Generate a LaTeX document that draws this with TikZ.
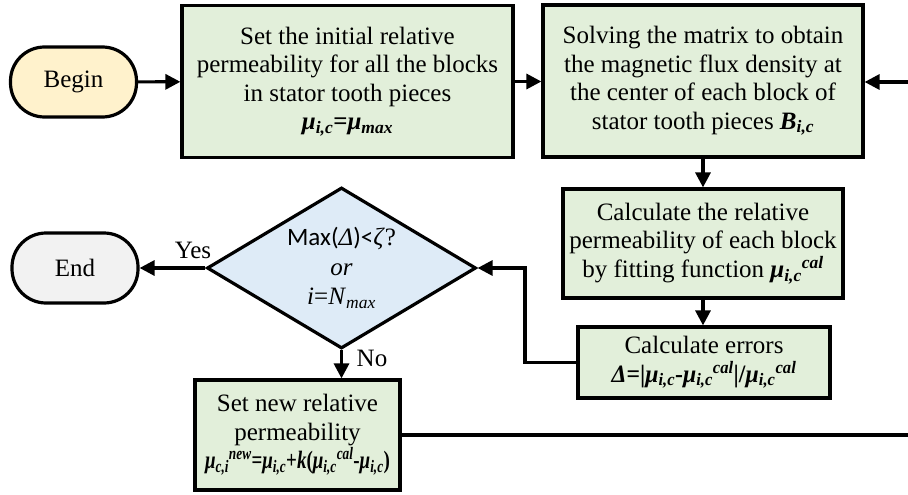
\documentclass[tikz,border=0pt]{standalone}
\usepackage{graphicx}
\usepackage{fontspec}
\setmainfont{Liberation Serif}
\newfontfamily\carl{Carlito}
\usetikzlibrary{shapes.geometric,arrows.meta}
\newcommand\bmu{\textbf{\textit{μ}}}
\newcommand\subx[1]{\textsubscript{\textbf{\textit{#1}}}}
\newcommand\supx[1]{\textsuperscript{\textbf{\textit{#1}}}}
\definecolor{boxgreen}{RGB}{226,239,218}
\definecolor{begincol}{RGB}{255,242,204}
\definecolor{diacol}{RGB}{222,235,247}
\definecolor{endcol}{RGB}{242,242,242}
\tikzset{
  proc/.style={draw=black,line width=3.2pt,fill=boxgreen,align=center,inner sep=0pt,font=\fontsize{25}{28.5}\selectfont},
  term/.style={draw=black,line width=3.2pt,rounded corners=34pt,minimum width=126pt,minimum height=70pt,inner sep=0pt,font=\fontsize{25}{28}\selectfont},
  arr/.style={line width=3.2pt,-{Triangle[length=15pt,width=15pt]}},
  ln/.style={line width=3.2pt},
  lbl/.style={font=\fontsize{25}{28}\selectfont,inner sep=0pt}
}
\begin{document}
\begin{tikzpicture}[x=1pt,y=-1pt]
\useasboundingbox (0,0) rectangle (908,495);
\node[term,fill=begincol] (begin) at (73.5,82) {Begin};
\node[proc,minimum width=331pt,minimum height=152pt] (b1) at (347.5,81.5) {Set the initial relative\\permeability for all the blocks\\in stator tooth pieces\\\bmu\subx{i,c}\textbf{=}\bmu\subx{max}};
\node[proc,minimum width=320pt,minimum height=152pt] (b2) at (703,81) {Solving the matrix to obtain\\the magnetic flux density at\\the center of each block of\\stator tooth pieces \textbf{\textit{B}}\subx{i,c}};
\node[proc,minimum width=280pt,minimum height=109pt] (b3) at (703,243.5) {Calculate the relative\\permeability of each block\\by fitting function \bmu\subx{i,c}\supx{cal}};
\node[proc,minimum width=252pt,minimum height=71pt] (b4) at (704,362.5) {Calculate errors\\\scalebox{0.95}[1]{\textbf{\textit{Δ}}\textbf{=|}\bmu\subx{i,c}\textbf{-}\bmu\subx{i,c}\supx{cal}\textbf{|/}\bmu\subx{i,c}\supx{cal}}};
\node[draw=black,line width=3.2pt,fill=diacol,diamond,inner sep=0pt,minimum width=269pt,minimum height=161pt] (dia) at (341.5,268) {};
\node[align=center,inner sep=0pt,font=\fontsize{25}{29.5}\selectfont] (diatxt) at (dia.center) {{\carl Max(}\textit{Δ}{\carl )<}\textit{ζ}?\\\textit{or}\\\textit{i}=\textit{N}\textsubscript{\textit{max}}};
\node[term,fill=endcol] (end) at (75,268) {End};
\node[proc,minimum width=205pt,minimum height=110pt] (b5) at (297.5,435) {Set new relative\\permeability\\\scalebox{0.76}[1]{\bmu\subx{c,i}\supx{new}\textbf{=}\bmu\subx{i,c}\textbf{+}\textbf{\textit{k}}\textbf{(}\bmu\subx{i,c}\supx{cal}\textbf{-}\bmu\subx{i,c}\textbf{)}}};
\coordinate (r1) at (910,82);
\coordinate (r2) at (910,435);
\coordinate (k) at (525,268);
\draw[arr] (begin) -- (b1);
\draw[arr] (b1.east) -- (b1.east -| b2.west);
\draw[arr] (r1) -- (r1 -| b2.east);
\draw[arr] (b2.south) -- (b3.north);
\draw[arr] (b3.south) -- (b3.south |- b4.north);
\draw[arr] (b4.west) -| (k) -- (dia.east);
\draw[arr] (dia.west) -- (end.east);
\draw[arr] (dia.south) -- (b5.north -| dia.south);
\draw[ln] (b5.east |- r2) -- (r2);
\node[lbl] (yes) at (193,250) {Yes};
\node[lbl] (no) at (372,358) {No};
\end{tikzpicture}
\end{document}
